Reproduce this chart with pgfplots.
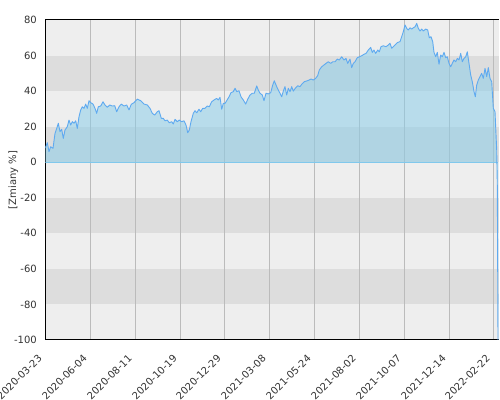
\documentclass[border=0pt]{standalone}
\usepackage{fontspec}
\setmainfont{DejaVu Sans}
\usepackage{pgfplots}
\pgfplotsset{compat=1.18}
\usepackage{pgfplotstable}
\usetikzlibrary{calc}

\definecolor{bglight}{RGB}{238,238,238}
\definecolor{bgdark}{RGB}{221,221,221}
\definecolor{gridgray}{RGB}{187,187,187}
\definecolor{areablue}{RGB}{136,204,234}
\definecolor{lineblue}{RGB}{95,170,240}
\definecolor{zeroblue}{RGB}{128,200,236}
\definecolor{tickgray}{RGB}{51,51,51}

% x = position along the date axis, y = change in %
\pgfplotstableread{
x y
45.3 8.0
47.3 11
49 5.9
50.7 8.7
53 7.8
55 16.2
56.7 19
58.3 21.9
60 17.2
61.7 18.5
63.3 13.4
65 18.1
67.3 20
69 23.7
70.7 20.9
72.3 22.8
74 21.9
75.7 23.3
77.3 19
79 25.6
80.7 29.4
82.3 31.2
84 30.3
85.7 32.7
87.3 30.3
89 34.6
90.7 33.5
93 32.7
95 30.3
96.7 27.5
98.3 31.2
100.7 31.6
103 34
105 32.2
107.3 30.9
109.7 32.2
112.3 31.6
114.7 31.8
116.7 28.4
119 31.2
121.3 32.7
124 31.6
126.7 32.2
129 29.4
131.3 32.6
134 33.5
137.3 35.5
140.7 34.6
144 32.7
147.3 32.2
150 30.3
152.3 27.5
154.7 26.5
157.3 28.4
159 29
161.3 24.7
163.3 24.7
165 23.3
167.3 23.7
169.3 22.2
171.7 22.8
173.3 21.5
175 24.1
177.3 22.8
179.3 23.7
181.7 22.8
184 23.3
186 20.9
187.7 16.6
189.3 18.1
191 22.8
193.3 27.5
195 29
196.7 27.8
199 29.8
200.7 28.4
202.7 30.3
205 30.3
207.3 31.6
209.3 31.2
211.7 34
214 35
216.7 35.9
218.3 35
220 36.5
221.7 29.8
223.3 33.1
225 33.1
226.7 34.6
229 36.8
231 39.1
233.3 39.7
235 41.6
236.7 39.7
239 40.2
241 36.8
243.3 35
245.7 32.7
247.7 35.4
250 37.8
252.3 38.8
254.3 38.8
256.7 42.9
258.3 40.6
260 38.8
262.3 37.8
264 34.6
266 38.8
268.3 38.4
270.7 39.1
272.7 43.4
274.3 45.8
276.7 42.5
278.3 40.6
280 38.8
281.7 36.8
283.3 40
285 42.5
286.7 37.8
288.3 41.6
290 39.7
291.7 42.5
293.3 40
295.7 41.9
297.7 43
300 42.5
301.7 43.8
304.3 45.3
306.7 45.7
309 46.2
311 46.8
313.3 46.2
315.7 47.2
317.7 48.7
319.3 51.9
321.7 53.7
324 54.7
326 55.6
328.3 56.5
330.7 55.6
332.7 56.5
335 56.5
337.3 58
339.3 57.5
341.7 59.3
344 57.5
346 58.4
347.7 55.6
350 58
351.7 53.2
353.3 55.6
355 56.5
357.3 58.8
359.3 59.3
361.7 59.9
364 60.7
366 61.2
368.3 63.1
370.7 64.6
372.3 61.8
374 63.1
375.7 61.2
377.7 63.1
379.3 62.1
381 65
383.3 65.5
386 65
388.3 65.9
390 66.9
391.7 64.1
393.3 65
395.7 66.3
397.7 67.4
400 67.8
401.7 70.6
403.3 73.4
405 77.2
406.7 75.3
408.3 74.4
410 75.6
411.7 74.9
413.3 75.6
415 76.2
416.7 78.1
418.3 75.3
420 73.8
421.7 74.9
423.3 73.8
425.7 74.9
427.7 74.4
429.3 70
431 70.6
432.7 67.8
434 61.8
435.7 59.3
437.3 61.8
439 55.1
440.7 60.3
442.3 59.3
444 61.8
445.7 58.8
447.3 59.3
449 55.6
450.7 53.7
452.3 55.6
454 57.5
455.7 56.5
457.3 58.4
459 57.5
460.7 61.2
462.3 56.5
464 58.4
465.7 59.3
467.3 62.1
469 55.6
470.7 49
472.3 45.3
474 39.7
475.3 36.8
476.7 43.4
478.3 46.2
480 48.1
481.7 50
483.3 47.2
485 52.8
486.7 48.1
488.3 53.2
490 47.2
491.7 45.3
493.3 30.3
495 28.4
496.7 6.9
497.3 -13
498 -99.9
}\fund

\begin{document}
\begin{tikzpicture}
\begin{axis}[
    set layers,
    scale only axis,
    width=453.7pt, height=320pt,
    xmin=45.3, xmax=499,
    ymin=-100, ymax=80,
    axis x line*=box,
    axis y line*=left,
    axis line style={black, line width=1pt},
    major tick length=0pt,
    xtick={45.3,90.3,135.3,180.3,224.3,269.3,314.3,359.3,404.3,449.3,493.3},
    xticklabels={2020-03-23,2020-06-04,2020-08-11,2020-10-19,2020-12-29,2021-03-08,2021-05-24,2021-08-02,2021-10-07,2021-12-14,2022-02-22},
    ytick={-100,-80,-60,-40,-20,0,20,40,60,80},
    yticklabels={-100,-80,-60,-40,-20,0,20,40,60,80},
    tick label style={font=\fontsize{10}{12}\selectfont, text=tickgray},
    xticklabel style={rotate=45, anchor=east, xshift=-12pt, yshift=-8pt},
    yticklabel style={xshift=-5pt},
    xmajorgrids,
    x grid style={gridgray, line width=0.9pt},
    ylabel={[Zmiany \%]},
    ylabel style={at={(axis description cs:-0.0705,0.5)}, anchor=center,
                  font=\fontsize{10}{12}\selectfont, text=tickgray},
]
\coordinate (sw) at (rel axis cs:0,0);
\coordinate (ne) at (rel axis cs:1,1);

% background bands
\addplot[draw=none, fill=bglight, forget plot, on layer=axis background]
    coordinates {(45.3,-100) (499,-100) (499,80) (45.3,80)} -- cycle;
\addplot[draw=none, fill=bgdark, forget plot, on layer=axis background]
    coordinates {(45.3,40) (499,40) (499,60) (45.3,60)} -- cycle;
\addplot[draw=none, fill=bgdark, forget plot, on layer=axis background]
    coordinates {(45.3,0) (499,0) (499,20) (45.3,20)} -- cycle;
\addplot[draw=none, fill=bgdark, forget plot, on layer=axis background]
    coordinates {(45.3,-40) (499,-40) (499,-20) (45.3,-20)} -- cycle;
\addplot[draw=none, fill=bgdark, forget plot, on layer=axis background]
    coordinates {(45.3,-80) (499,-80) (499,-60) (45.3,-60)} -- cycle;

% area, zero line, curve
\addplot[draw=none, fill=areablue, fill opacity=0.53, forget plot]
    table[x=x, y=y] {\fund} \closedcycle;
\addplot[zeroblue, line width=1pt, forget plot]
    coordinates {(45.3,0) (498,0)};
\addplot[lineblue, line width=0.9pt, line join=round]
    table[x=x, y=y] {\fund};
\end{axis}
\pgfresetboundingbox
\path ($(sw)+(-45.3pt,-60pt)$) rectangle ($(ne)+(1pt,20pt)$);
\end{tikzpicture}
\end{document}
